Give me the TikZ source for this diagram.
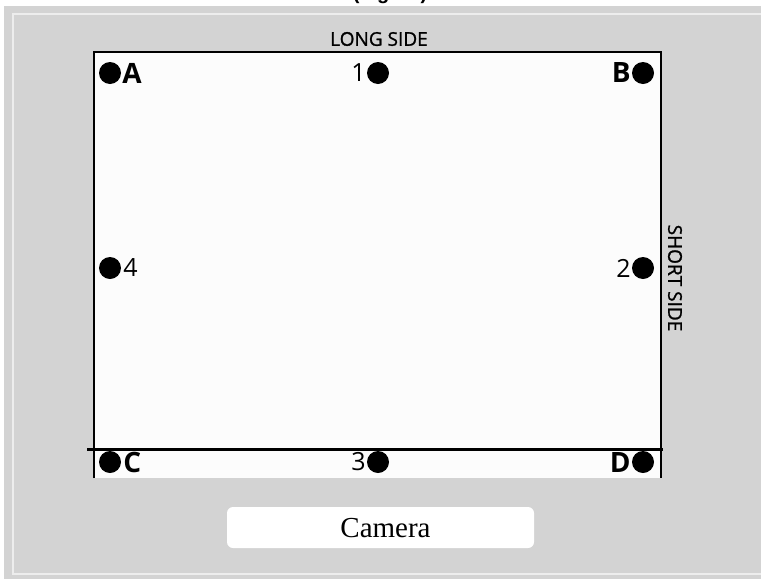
\documentclass[tikz,border=0pt]{standalone}
\usepackage{fontspec}
\setmainfont{Liberation Serif}
\newfontfamily\sidefont[FakeBold=1.2]{Open Sans}
\newfontfamily\numfont{Open Sans}
\newfontfamily\capfont{Liberation Sans}
\usetikzlibrary{positioning}
\definecolor{panel}{HTML}{D3D3D3}
\definecolor{rim}{HTML}{EDEDED}

\begin{document}
\begin{tikzpicture}[x=1pt, y=-1pt,
  every node/.style={inner sep=0pt},
  spot/.style={fill=black, circle, minimum size=22pt},
  tag/.style={font=\numfont\bfseries\fontsize{28}{28}\selectfont},
  num/.style={font=\numfont\fontsize{25}{25}\selectfont},
  side/.style={font=\sidefont\fontsize{19}{19}\selectfont},
  wall/.style={line width=2pt},
]
\clip (0,0) rectangle (761,579);
\fill[white] (0,0) rectangle (761,579);
\fill[panel] (4,6) rectangle (761,579);
\draw[rim, line width=2pt] (13,14) rectangle (790,574);
\node[font=\capfont\bfseries\fontsize{20}{20}\selectfont, anchor=base] (fig) at (390,-1) {(Figure)};

% table outline
\fill[white!99!black] (94,52) rectangle (661,478);
\draw[wall] (94,478) -- (94,52) -- (661,52) -- (661,478);
\draw[line width=3pt] (87,449) -- (663,449);

\node[side] (long) at (379,39) {LONG SIDE};
\node[side, rotate=-90] (short) at (675,278) {SHORT SIDE};

% corner and side spots
\node[spot] (A) at (110,73) {};
\node[tag, right=1pt of A] (lA) {A};
\node[spot] (p1) at (378,73) {};
\node[num, left=1pt of p1] (l1) {1};
\node[spot] (B) at (643,73) {};
\node[tag, left=1pt of B] (lB) {B};
\node[spot] (p4) at (110,268) {};
\node[num, right=2pt of p4] (l4) {4};
\node[spot] (p2) at (643,268) {};
\node[num, left=1pt of p2] (l2) {2};
\node[spot] (C) at (110,462) {};
\node[tag, right=2pt of C] (lC) {C};
\node[spot] (p3) at (378,462) {};
\node[num, left=1pt of p3] (l3) {3};
\node[spot] (D) at (643,462) {};
\node[tag, left=1pt of D] (lD) {D};

\node[fill=white, rounded corners=6pt, minimum width=307pt, minimum height=41pt,
  font=\fontsize{29}{29}\selectfont, text depth=0pt] (cam) at (380.5,527.5) {\hspace{10pt}Camera};
\end{tikzpicture}
\end{document}
